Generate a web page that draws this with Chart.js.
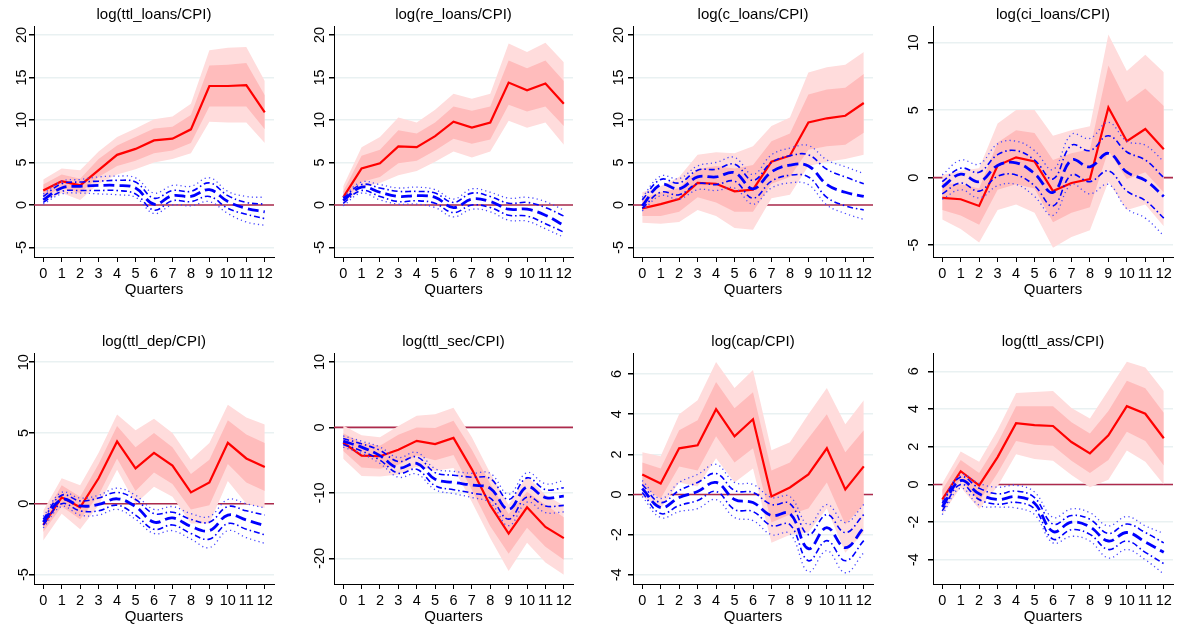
<!DOCTYPE html>
<html>
<head>
<meta charset="utf-8">
<script src="https://cdn.jsdelivr.net/npm/chart.js@4.4.1/dist/chart.umd.min.js"></script>
<style>
  html, body { margin: 0; padding: 0; background: #fff; overflow: hidden; }
  body { width: 1177px; height: 628px; position: relative; }
  canvas { position: absolute; }
</style>
</head>
<body>
<script>
// quarters on the x axis
const quarters = ['0','1','2','3','4','5','6','7','8','9','10','11','12'];

// log(ttl_loans/CPI)
const ttlLoansRed   = [1.7, 2.8, 2.3, 4.1, 5.9, 6.6, 7.6, 7.8, 8.9, 14.0, 14.0, 14.1, 10.9];
const ttlLoansHi68  = [2.4, 3.6, 3.1, 5.4, 7.0, 8.0, 9.0, 9.2, 10.6, 16.4, 16.5, 16.7, 12.9];
const ttlLoansLo68  = [1.0, 2.0, 1.4, 3.3, 4.6, 5.2, 6.1, 6.4, 7.3, 11.6, 11.6, 11.6, 8.9];
const ttlLoansHi90  = [3.0, 4.3, 4.1, 6.3, 8.0, 9.0, 10.1, 10.4, 11.9, 18.2, 18.5, 18.6, 14.6];
const ttlLoansLo90  = [0.4, 1.4, 0.6, 2.5, 3.6, 4.2, 5.0, 5.4, 6.1, 9.8, 9.7, 9.7, 7.3];
const ttlLoansBlue  = [0.6, 2.0, 2.2, 2.3, 2.3, 2.0, 0.1, 1.1, 1.0, 1.8, 0.4, -0.4, -0.8];
const ttlLoansBHi68 = [1.0, 2.5, 2.7, 2.8, 2.9, 2.7, 0.8, 1.7, 1.6, 2.6, 1.1, 0.3, 0.1];
const ttlLoansBLo68 = [0.3, 1.6, 1.7, 1.7, 1.7, 1.3, -0.6, 0.5, 0.4, 1.0, -0.4, -1.1, -1.6];
const ttlLoansBHi90 = [1.3, 2.8, 3.0, 3.3, 3.4, 3.2, 1.4, 2.3, 2.2, 3.2, 1.6, 1.0, 0.9];
const ttlLoansBLo90 = [0.1, 1.3, 1.4, 1.3, 1.2, 0.9, -1.0, 0.0, -0.1, 0.4, -1.0, -2.0, -2.4];

// log(re_loans/CPI)
const reLoansRed   = [0.9, 4.3, 4.9, 6.9, 6.8, 8.1, 9.8, 9.1, 9.7, 14.4, 13.5, 14.3, 11.9];
const reLoansHi68  = [1.6, 5.8, 6.5, 8.8, 8.4, 9.7, 11.6, 11.1, 11.6, 17.0, 16.1, 17.0, 14.6];
const reLoansLo68  = [0.4, 2.7, 3.3, 4.9, 5.2, 6.4, 7.8, 7.2, 7.7, 11.8, 11.0, 11.6, 9.3];
const reLoansHi90  = [2.2, 6.8, 8.0, 10.3, 9.7, 11.2, 13.1, 12.5, 13.1, 19.0, 18.0, 19.1, 16.8];
const reLoansLo90  = [0.0, 2.1, 2.6, 3.5, 4.0, 5.1, 6.3, 5.6, 6.3, 9.9, 9.1, 9.7, 7.1];
const reLoansBlue  = [0.5, 2.1, 1.5, 1.0, 1.1, 0.9, -0.3, 0.7, 0.4, -0.5, -0.5, -1.2, -2.4];
const reLoansBHi68 = [0.8, 2.4, 2.0, 1.6, 1.6, 1.4, 0.3, 1.4, 1.0, 0.2, 0.3, -0.3, -1.3];
const reLoansBLo68 = [0.2, 1.7, 1.0, 0.4, 0.5, 0.2, -0.9, 0.0, -0.3, -1.2, -1.3, -2.2, -3.2];
const reLoansBHi90 = [1.0, 2.7, 2.4, 2.0, 2.1, 1.8, 0.7, 1.9, 1.5, 0.8, 0.9, 0.4, -0.6];
const reLoansBLo90 = [-0.1, 1.4, 0.6, 0.1, 0.1, -0.3, -1.4, -0.5, -0.8, -1.8, -1.9, -2.8, -3.8];

// log(c_loans/CPI)
const cLoansRed   = [-0.4, 0.1, 0.7, 2.6, 2.5, 1.6, 1.8, 5.1, 5.8, 9.7, 10.2, 10.5, 12.0];
const cLoansHi68  = [0.8, 1.5, 2.0, 4.2, 4.6, 4.3, 4.7, 7.5, 8.4, 13.0, 13.6, 13.8, 15.4];
const cLoansLo68  = [-1.3, -1.3, -0.8, 0.9, 0.3, -0.8, -0.8, 2.5, 3.3, 6.5, 6.9, 7.1, 8.5];
const cLoansHi90  = [1.5, 2.2, 3.3, 5.9, 6.2, 6.1, 6.9, 9.3, 10.3, 15.6, 16.2, 16.5, 18.0];
const cLoansLo90  = [-2.1, -2.2, -2.0, -0.6, -1.3, -2.7, -2.9, 0.8, 1.2, 4.6, 5.1, 5.4, 5.9];
const cLoansBlue  = [-0.1, 2.4, 1.9, 3.3, 3.3, 3.8, 1.9, 3.9, 4.7, 4.6, 2.4, 1.5, 1.0];
const cLoansBHi68 = [0.6, 3.0, 2.6, 4.1, 4.2, 4.8, 2.9, 5.0, 5.8, 5.9, 4.2, 3.3, 2.5];
const cLoansBLo68 = [-0.4, 1.5, 1.2, 2.5, 2.4, 2.8, 0.8, 2.8, 3.5, 3.3, 0.9, -0.1, -0.6];
const cLoansBHi90 = [0.9, 3.4, 3.1, 4.6, 5.0, 5.6, 3.6, 5.9, 6.7, 7.0, 5.3, 4.5, 3.7];
const cLoansBLo90 = [-0.7, 1.1, 0.7, 1.8, 1.7, 2.0, 0.1, 2.0, 2.6, 2.4, 0.0, -1.0, -1.7];

// log(ci_loans/CPI)
const ciLoansRed   = [-1.5, -1.6, -2.1, 0.9, 1.5, 1.2, -1.0, -0.4, -0.1, 5.2, 2.7, 3.6, 2.1];
const ciLoansHi68  = [-0.4, -0.5, -0.8, 2.6, 3.5, 3.3, 1.3, 1.8, 2.1, 8.3, 5.6, 6.6, 5.3];
const ciLoansLo68  = [-2.4, -2.8, -3.5, -0.9, -0.5, -0.8, -3.3, -2.6, -2.2, 2.0, -0.1, 0.4, -1.1];
const ciLoansHi90  = [0.2, 0.5, 0.7, 4.0, 5.0, 5.0, 3.1, 3.5, 3.8, 10.6, 7.9, 9.1, 7.8];
const ciLoansLo90  = [-3.1, -3.8, -4.8, -2.4, -2.0, -2.6, -5.2, -4.4, -3.9, -0.3, -2.4, -2.0, -3.6];
const ciLoansBlue  = [-0.7, 0.25, -0.3, 0.9, 1.1, 0.3, -1.1, 1.3, 0.8, 1.8, 0.4, -0.2, -1.4];
const ciLoansBHi68 = [-0.3, 0.7, 0.4, 1.7, 2.0, 1.3, -0.1, 2.4, 2.0, 3.1, 1.9, 1.3, 0.0];
const ciLoansBLo68 = [-1.2, -0.4, -1.0, 0.1, 0.2, -0.6, -2.1, 0.2, -0.3, 0.5, -1.0, -1.7, -3.0];
const ciLoansBHi90 = [0.2, 1.3, 1.0, 2.5, 2.7, 2.0, 0.6, 3.2, 2.9, 4.1, 2.7, 2.4, 1.2];
const ciLoansBLo90 = [-1.6, -0.9, -1.5, -0.6, -0.5, -1.4, -2.8, -0.5, -1.2, -0.5, -2.3, -3.0, -4.3];

// log(ttl_dep/CPI)
const ttlDepRed   = [-1.5, 0.45, -0.25, 1.8, 4.4, 2.5, 3.6, 2.7, 0.8, 1.5, 4.3, 3.2, 2.6];
const ttlDepHi68  = [-1.0, 1.3, 0.5, 2.8, 5.5, 4.0, 5.0, 4.0, 2.1, 3.1, 5.9, 4.9, 4.3];
const ttlDepLo68  = [-2.0, -0.2, -1.1, 0.6, 3.2, 0.9, 2.2, 1.4, -0.4, -0.1, 2.8, 1.5, 0.9];
const ttlDepHi90  = [-0.5, 1.8, 1.3, 3.6, 6.3, 5.2, 6.0, 5.0, 3.1, 4.3, 7.0, 6.1, 5.6];
const ttlDepLo90  = [-2.6, -0.7, -1.8, -0.1, 2.4, 0.0, 1.2, 0.5, -1.4, -1.4, 1.6, 0.0, -0.3];
const ttlDepBlue  = [-1.3, 0.3, -0.15, -0.05, 0.35, -0.2, -1.3, -1.0, -1.6, -1.9, -0.8, -1.15, -1.55];
const ttlDepBHi68 = [-1.1, 0.6, 0.2, 0.4, 0.8, 0.3, -0.7, -0.6, -1.1, -1.3, -0.2, -0.5, -0.8];
const ttlDepBLo68 = [-1.5, 0.0, -0.5, -0.5, -0.1, -0.8, -1.8, -1.5, -2.1, -2.5, -1.4, -1.8, -2.2];
const ttlDepBHi90 = [-0.9, 0.8, 0.4, 0.6, 1.1, 0.6, -0.4, -0.2, -0.7, -0.9, 0.3, 0.0, -0.3];
const ttlDepBLo90 = [-1.7, -0.2, -0.8, -0.8, -0.4, -1.1, -2.1, -1.9, -2.5, -3.1, -1.9, -2.4, -2.8];

// log(ttl_sec/CPI)
const ttlSecRed   = [-2.3, -4.3, -4.4, -3.4, -2.05, -2.55, -1.6, -6.4, -11.9, -16.2, -12.2, -15.2, -16.9];
const ttlSecHi68  = [-0.9, -2.3, -2.8, -1.1, 0.0, -0.1, 1.0, -3.4, -8.6, -13.2, -9.8, -11.8, -13.7];
const ttlSecLo68  = [-3.6, -6.1, -6.3, -5.7, -4.3, -5.0, -4.2, -9.5, -15.1, -19.3, -15.3, -18.2, -20.2];
const ttlSecHi90  = [0.3, -1.2, -1.5, 0.2, 1.8, 2.0, 3.0, -1.5, -7.0, -11.8, -7.4, -10.3, -11.9];
const ttlSecLo90  = [-4.8, -7.4, -7.5, -7.2, -6.0, -6.6, -6.2, -11.4, -16.9, -21.9, -17.6, -20.6, -22.5];
const ttlSecBlue  = [-2.1, -3.0, -4.3, -6.2, -5.5, -7.9, -8.4, -8.8, -9.3, -12.5, -9.1, -10.7, -10.5];
const ttlSecBHi68 = [-1.7, -2.5, -3.5, -5.2, -4.5, -6.9, -7.3, -7.6, -7.8, -11.0, -7.7, -9.5, -9.2];
const ttlSecBLo68 = [-2.6, -3.6, -5.0, -7.0, -6.4, -8.9, -9.5, -10.0, -10.8, -14.0, -10.6, -12.0, -11.9];
const ttlSecBHi90 = [-1.3, -2.1, -3.0, -4.6, -3.8, -6.3, -6.7, -7.0, -7.0, -10.2, -6.9, -8.6, -8.1];
const ttlSecBLo90 = [-3.0, -4.0, -5.5, -7.6, -7.1, -9.5, -10.1, -10.7, -11.5, -15.0, -11.4, -13.0, -12.9];

// log(cap/CPI)
const capRed   = [1.0, 0.55, 2.3, 2.45, 4.25, 2.9, 3.75, -0.1, 0.35, 1.0, 2.3, 0.25, 1.4];
const capHi68  = [1.6, 1.3, 3.2, 3.7, 5.6, 4.3, 5.1, 1.2, 1.6, 2.8, 4.0, 2.1, 3.2];
const capLo68  = [0.4, -0.2, 1.4, 1.2, 2.9, 1.6, 2.3, -1.4, -1.0, -0.7, 0.6, -1.5, -0.5];
const capHi90  = [2.1, 1.9, 4.0, 4.7, 6.6, 5.3, 6.2, 2.2, 2.6, 4.0, 5.3, 3.5, 4.7];
const capLo90  = [-0.1, -0.7, 0.6, 0.4, 1.8, 0.6, 1.3, -2.4, -2.0, -1.9, -0.7, -2.9, -1.9];
const capBlue  = [0.3, -0.65, -0.15, 0.15, 0.6, -0.25, -0.4, -1.05, -0.95, -2.7, -1.65, -2.65, -1.65];
const capBHi68 = [0.5, -0.4, 0.2, 0.6, 1.05, 0.2, 0.1, -0.5, -0.45, -2.0, -1.0, -1.9, -1.0];
const capBLo68 = [0.1, -0.95, -0.55, -0.3, 0.15, -0.75, -0.85, -1.55, -1.5, -3.3, -2.3, -3.3, -2.3];
const capBHi90 = [0.7, -0.2, 0.6, 1.0, 1.5, 0.6, 0.5, -0.15, -0.1, -1.5, -0.5, -1.4, -0.5];
const capBLo90 = [-0.1, -1.15, -0.85, -0.7, -0.25, -1.15, -1.3, -2.0, -1.95, -3.85, -2.8, -3.9, -2.9];

// log(ttl_ass/CPI)
const ttlAssRed   = [-0.8, 0.7, -0.05, 1.45, 3.25, 3.15, 3.1, 2.25, 1.65, 2.6, 4.15, 3.75, 2.45];
const ttlAssHi68  = [-0.3, 1.3, 0.6, 2.2, 4.15, 4.15, 4.15, 3.3, 2.7, 3.9, 5.5, 5.1, 3.8];
const ttlAssLo68  = [-1.3, 0.3, -0.9, 0.6, 2.3, 2.1, 2.05, 1.25, 0.6, 1.3, 2.8, 2.3, 1.0];
const ttlAssHi90  = [0.05, 1.75, 1.2, 2.9, 4.85, 4.9, 4.95, 4.05, 3.5, 5.0, 6.5, 6.2, 4.95];
const ttlAssLo90  = [-1.6, -0.15, -1.3, -0.1, 1.6, 1.35, 1.25, 0.5, -0.15, 0.25, 1.8, 1.2, 0.0];
const ttlAssBlue  = [-1.2, 0.2, -0.5, -0.8, -0.65, -1.0, -2.5, -2.0, -2.25, -3.0, -2.55, -3.05, -3.6];
const ttlAssBHi68 = [-1.0, 0.4, -0.2, -0.5, -0.35, -0.7, -2.1, -1.65, -1.85, -2.6, -2.1, -2.55, -3.1];
const ttlAssBLo68 = [-1.4, 0.0, -0.8, -1.05, -0.95, -1.3, -2.9, -2.4, -2.65, -3.45, -3.0, -3.6, -4.2];
const ttlAssBHi90 = [-0.9, 0.5, 0.05, -0.15, -0.05, -0.4, -1.75, -1.3, -1.5, -2.2, -1.7, -2.2, -2.6];
const ttlAssBLo90 = [-1.6, -0.2, -1.1, -1.2, -1.25, -1.6, -3.1, -2.75, -3.0, -3.9, -3.45, -4.0, -4.75];

// y tick labels per panel
const ticksLoans = [-5, 0, 5, 10, 15, 20];
const ticksTen   = [-5, 0, 5, 10];
const ticksSec   = [-20, -10, 0, 10];
const ticksSmall = [-4, -2, 0, 2, 4, 6];

const panels = [
  { title: 'log(ttl_loans/CPI)', s: [ttlLoansRed, ttlLoansHi68, ttlLoansLo68, ttlLoansHi90, ttlLoansLo90, ttlLoansBlue, ttlLoansBHi68, ttlLoansBLo68, ttlLoansBHi90, ttlLoansBLo90], ticks: ticksLoans, min: -6.12, max: 21.06, ax: 34, right: 274, row: 0, lab: 12 },
  { title: 'log(re_loans/CPI)', s: [reLoansRed, reLoansHi68, reLoansLo68, reLoansHi90, reLoansLo90, reLoansBlue, reLoansBHi68, reLoansBLo68, reLoansBHi90, reLoansBLo90], ticks: ticksLoans, min: -6.12, max: 21.06, ax: 334, right: 573, row: 0, lab: 14.5 },
  { title: 'log(c_loans/CPI)', s: [cLoansRed, cLoansHi68, cLoansLo68, cLoansHi90, cLoansLo90, cLoansBlue, cLoansBHi68, cLoansBLo68, cLoansBHi90, cLoansBLo90], ticks: ticksLoans, min: -6.12, max: 21.06, ax: 633, right: 873, row: 0, lab: 14 },
  { title: 'log(ci_loans/CPI)', s: [ciLoansRed, ciLoansHi68, ciLoansLo68, ciLoansHi90, ciLoansLo90, ciLoansBlue, ciLoansBHi68, ciLoansBLo68, ciLoansBHi90, ciLoansBLo90], ticks: ticksTen, min: -5.88, max: 11.23, ax: 933, right: 1173, row: 0, lab: 19.5 },
  { title: 'log(ttl_dep/CPI)', s: [ttlDepRed, ttlDepHi68, ttlDepLo68, ttlDepHi90, ttlDepLo90, ttlDepBlue, ttlDepBHi68, ttlDepBLo68, ttlDepBHi90, ttlDepBLo90], ticks: ticksTen, min: -5.67, max: 10.65, ax: 34, right: 274, row: 1, lab: 10 },
  { title: 'log(ttl_sec/CPI)', s: [ttlSecRed, ttlSecHi68, ttlSecLo68, ttlSecHi90, ttlSecLo90, ttlSecBlue, ttlSecBHi68, ttlSecBLo68, ttlSecBHi90, ttlSecBLo90], ticks: ticksSec, min: -23.9, max: 11.36, ax: 334, right: 573, row: 1, lab: 13.7 },
  { title: 'log(cap/CPI)', s: [capRed, capHi68, capLo68, capHi90, capLo90, capBlue, capBHi68, capBLo68, capBHi90, capBLo90], ticks: ticksSmall, min: -4.46, max: 7.05, ax: 633, right: 873, row: 1, lab: 16.3 },
  { title: 'log(ttl_ass/CPI)', s: [ttlAssRed, ttlAssHi68, ttlAssLo68, ttlAssHi90, ttlAssLo90, ttlAssBlue, ttlAssBHi68, ttlAssBLo68, ttlAssBHi90, ttlAssBLo90], ticks: ticksSmall, min: -5.28, max: 6.97, ax: 933, right: 1173, row: 1, lab: 19.3 }
];

const FONT = '"Liberation Sans", Arial, Helvetica, sans-serif';
const rowTop = [0, 327];

// rotated y labels (Stata style) and zero reference line
const yLabels = {
  id: 'yLabels',
  afterDraw(chart, args, opts) {
    const s = chart.scales.y, ctx = chart.ctx;
    ctx.save();
    ctx.font = '14.5px ' + FONT;
    ctx.fillStyle = '#000';
    ctx.textAlign = 'center';
    ctx.textBaseline = 'middle';
    s.ticks.forEach(t => {
      ctx.save();
      ctx.translate(s.right - opts.offset, s.getPixelForValue(t.value));
      ctx.rotate(-Math.PI / 2);
      ctx.fillText(String(t.value), 0, 0);
      ctx.restore();
    });
    ctx.restore();
  }
};
const zeroLine = {
  id: 'zeroLine',
  beforeDatasetsDraw(chart) {
    const a = chart.chartArea, y = chart.scales.y.getPixelForValue(0), ctx = chart.ctx;
    ctx.save();
    ctx.strokeStyle = '#ad2a4c';
    ctx.lineWidth = 1.6;
    ctx.beginPath();
    ctx.moveTo(a.left, y);
    ctx.lineTo(a.right, y);
    ctx.stroke();
    ctx.restore();
  }
};

function band(data, fill, color, order) {
  return { data, fill: fill ? '+1' : false, backgroundColor: color, borderWidth: 0, pointRadius: 0, tension: 0, order };
}
function line(data, color, width, dash, tension, order) {
  return { data, fill: false, borderColor: color, borderWidth: width, borderDash: dash, pointRadius: 0, tension, order, borderCapStyle: 'butt' };
}

panels.forEach(p => {
  const c = document.createElement('canvas');
  const w = p.right - p.ax + 34 + 6;
  c.width = w; c.height = 300;
  c.style.left = (p.ax - 34) + 'px';
  c.style.top = rowTop[p.row] + 'px';
  c.style.width = w + 'px'; c.style.height = '300px';
  document.body.appendChild(c);

  const [red, hi68, lo68, hi90, lo90, blue, bHi68, bLo68, bHi90, bLo90] = p.s;
  new Chart(c.getContext('2d'), {
    type: 'line',
    data: {
      labels: quarters,
      datasets: [
        band(hi90, true, '#ffdcdc', 20),
        band(lo90, false, '#ffdcdc', 19),
        band(hi68, true, '#ffbcbc', 18),
        band(lo68, false, '#ffbcbc', 17),
        line(red, '#ff0000', 2.2, [], 0, 16),
        line(bHi90, '#4646ff', 1.3, [1.2, 3.2], 0.4, 15),
        line(bLo90, '#4646ff', 1.3, [1.2, 3.2], 0.4, 14),
        line(bHi68, '#0000ff', 1.6, [6, 3, 1.5, 3], 0.4, 13),
        line(bLo68, '#0000ff', 1.6, [6, 3, 1.5, 3], 0.4, 12),
        line(blue, '#0000ff', 2.8, [11, 5], 0.4, 11)
      ]
    },
    options: {
      responsive: false,
      animation: false,
      devicePixelRatio: 1,
      layout: { padding: { left: 0, right: 6, top: 0, bottom: 0 } },
      plugins: {
        legend: { display: false },
        tooltip: { enabled: false },
        title: { display: true, fullSize: false, text: p.title, color: '#000', font: { family: FONT, size: 15, weight: 'normal' }, padding: { top: 6, bottom: 2 } },
        yLabels: { offset: p.lab }
      },
      scales: {
        x: {
          type: 'category',
          offset: true,
          grid: { display: true, drawOnChartArea: false, drawTicks: true, tickLength: 5, tickColor: '#000', offset: false },
          border: { display: true, color: '#000', width: 1 },
          ticks: { color: '#000', font: { family: FONT, size: 14.5 }, padding: 3, maxRotation: 0, autoSkip: false },
          title: { display: true, text: 'Quarters', color: '#000', font: { family: FONT, size: 15 }, padding: { top: 0, bottom: 1.6 } },
          afterFit(s) { s.height = 43; s.paddingLeft = 0; s.paddingRight = 0; }
        },
        y: {
          min: p.min, max: p.max,
          afterBuildTicks(s) { s.ticks = p.ticks.map(v => ({ value: v })); },
          grid: { color: '#e9f1f2', lineWidth: 1.5, tickLength: 5, tickColor: '#000', drawTicks: true },
          border: { display: true, color: '#000', width: 1 },
          ticks: { display: false },
          afterFit(s) { s.width = 34; s.paddingTop = 0; s.paddingBottom = 0; }
        }
      }
    },
    plugins: [yLabels, zeroLine]
  });
});
</script>
</body>
</html>
